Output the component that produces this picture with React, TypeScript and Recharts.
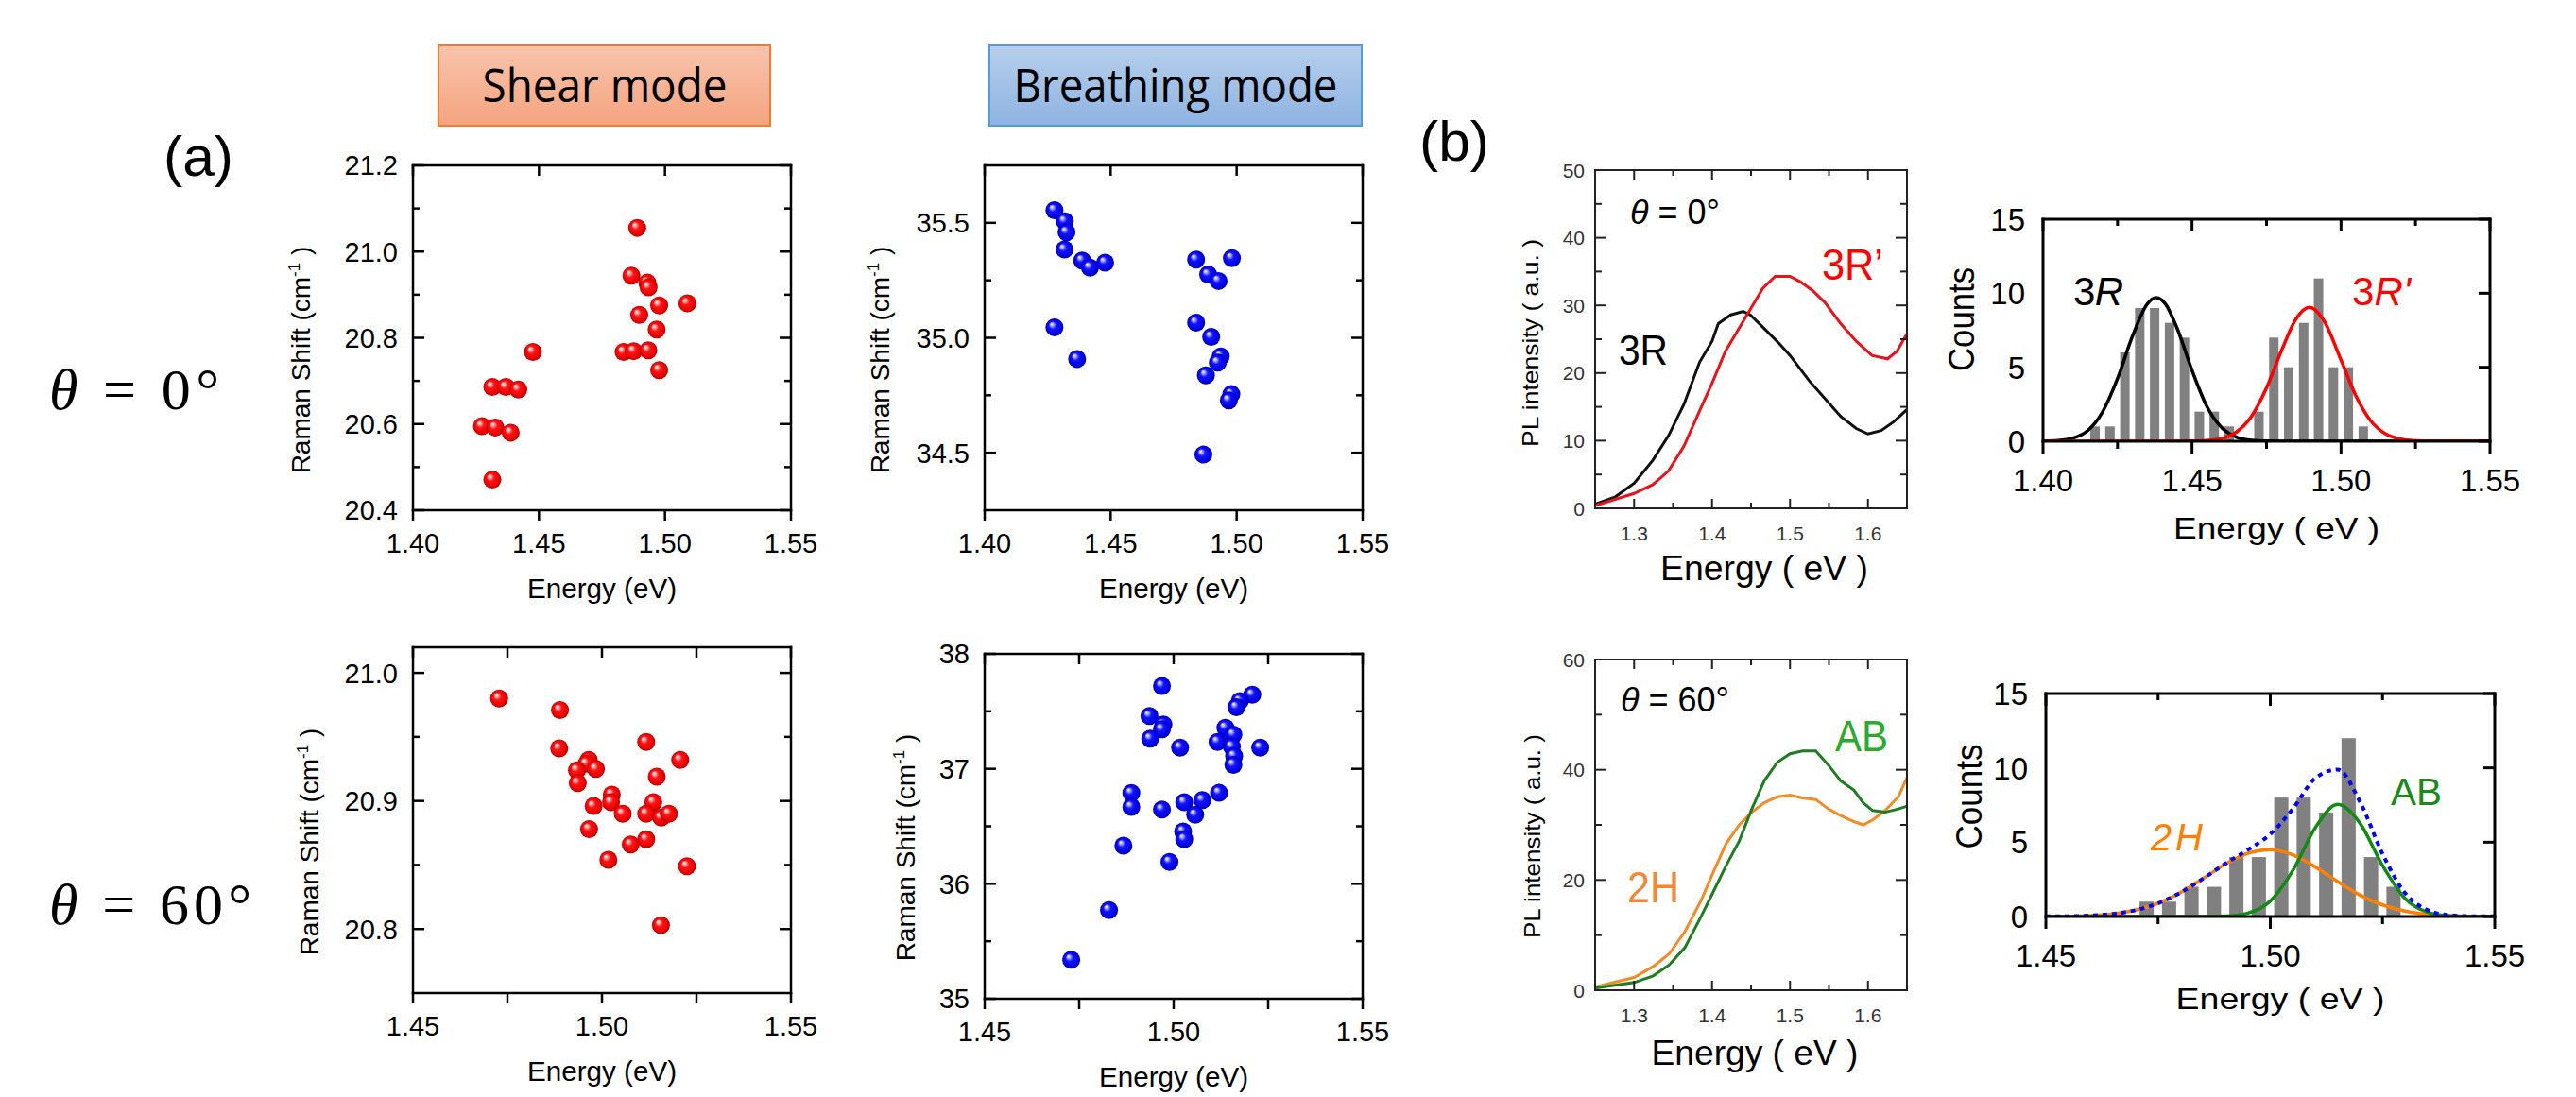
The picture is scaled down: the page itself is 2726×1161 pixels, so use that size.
import React from 'react'
import { ComposedChart, Scatter, Line, Bar, XAxis, YAxis } from 'recharts'

// ---- (a) Raman shift vs PL peak energy ----
const shear0Energy = [1.489, 1.4867, 1.493, 1.4935, 1.4977, 1.5089, 1.4898, 1.4967, 1.4836, 1.4876, 1.4934, 1.4977, 1.4476, 1.4315, 1.4369, 1.4418, 1.4274, 1.4327, 1.4388, 1.4315]
const shear0Shift = [21.055, 20.944, 20.928, 20.917, 20.875, 20.88, 20.853, 20.819, 20.767, 20.769, 20.771, 20.725, 20.767, 20.686, 20.686, 20.68, 20.595, 20.592, 20.58, 20.471]

const breath0Energy = [1.4277, 1.4318, 1.4325, 1.4317, 1.4387, 1.4418, 1.4478, 1.4277, 1.4367, 1.4839, 1.4981, 1.4887, 1.4928, 1.4839, 1.4899, 1.4937, 1.4925, 1.4878, 1.4979, 1.4969, 1.4868]
const breath0Shift = [35.555, 35.507, 35.459, 35.384, 35.336, 35.305, 35.327, 35.045, 34.908, 35.34, 35.346, 35.275, 35.247, 35.066, 35.004, 34.919, 34.892, 34.837, 34.755, 34.728, 34.492]

const shear60Energy = [1.4728, 1.4889, 1.4887, 1.5117, 1.5207, 1.4965, 1.4959, 1.4934, 1.4984, 1.5145, 1.4936, 1.5026, 1.5024, 1.4978, 1.5055, 1.5136, 1.5117, 1.5157, 1.5177, 1.4966, 1.5117, 1.5076, 1.5017, 1.5225, 1.5156]
const shear60Shift = [20.98, 20.971, 20.941, 20.946, 20.932, 20.932, 20.929, 20.924, 20.925, 20.919, 20.914, 20.905, 20.899, 20.896, 20.89, 20.899, 20.89, 20.887, 20.89, 20.878, 20.87, 20.866, 20.854, 20.849, 20.803]

const breath60Energy = [1.4969, 1.5208, 1.5175, 1.5166, 1.4936, 1.4973, 1.4969, 1.5137, 1.5158, 1.4938, 1.5017, 1.5116, 1.5229, 1.5154, 1.516, 1.5158, 1.4888, 1.4888, 1.512, 1.5028, 1.5076, 1.4969, 1.5057, 1.5025, 1.5028, 1.4867, 1.4989, 1.4829, 1.4729]
const breath60Shift = [37.721, 37.645, 37.59, 37.535, 37.459, 37.385, 37.344, 37.357, 37.297, 37.262, 37.185, 37.234, 37.185, 37.193, 37.111, 37.035, 36.789, 36.668, 36.791, 36.709, 36.728, 36.646, 36.6, 36.455, 36.387, 36.332, 36.19, 35.771, 35.339]

// ---- (b) PL spectra ----
const pl3REnergy = [1.25, 1.276, 1.3, 1.324, 1.344, 1.364, 1.384, 1.4, 1.408, 1.424, 1.44, 1.449, 1.465, 1.485, 1.5, 1.525, 1.545, 1.565, 1.585, 1.6, 1.617, 1.633, 1.65]
const pl3R = [0.6, 1.7, 3.7, 7.1, 10.7, 15.4, 21.6, 24.7, 27.3, 28.6, 29.1, 28.6, 26.8, 24.5, 22.6, 18.8, 16.2, 13.6, 11.8, 11.0, 11.5, 12.8, 14.6]
const pl3RpEnergy = [1.25, 1.3, 1.324, 1.344, 1.364, 1.384, 1.4, 1.417, 1.433, 1.449, 1.465, 1.481, 1.5, 1.513, 1.529, 1.545, 1.565, 1.585, 1.605, 1.625, 1.637, 1.65]
const pl3Rp = [0.4, 2.2, 3.5, 5.5, 9.2, 14.4, 18.5, 23.2, 26.3, 29.4, 32.5, 34.3, 34.3, 33.5, 32.2, 30.4, 27.3, 24.7, 22.6, 22.1, 23.2, 25.8]
const pl60Energy = [1.25, 1.3, 1.3245, 1.345, 1.365, 1.386, 1.4, 1.418, 1.435, 1.451, 1.467, 1.484, 1.5, 1.516, 1.533, 1.549, 1.565, 1.582, 1.594, 1.606, 1.622, 1.639, 1.65]
const plAB = [0.4, 1.4, 2.6, 4.6, 7.7, 13.4, 17.4, 22.6, 27.1, 32.9, 38.0, 41.4, 42.9, 43.4, 43.4, 40.9, 38.0, 36.3, 34.0, 32.6, 32.3, 32.9, 33.4]
const pl2H = [0.6, 2.3, 4.3, 6.6, 10.6, 16.3, 20.9, 26.6, 30.0, 32.3, 34.0, 35.1, 35.4, 34.9, 34.6, 32.9, 31.7, 30.6, 30.0, 30.9, 32.6, 35.1, 38.6]

// ---- (b) histograms of peak energy ----
const hist0Energy = [1.4175, 1.4225, 1.4275, 1.4325, 1.4375, 1.4425, 1.4475, 1.4525, 1.4575, 1.4625, 1.4675, 1.4725, 1.4775, 1.4825, 1.4875, 1.4925, 1.4975, 1.5025, 1.5075]
const hist0Counts = [1, 1, 6, 9, 9, 8, 7, 2, 2, 1, 0, 2, 7, 5, 8, 11, 5, 5, 1]
const hist60Energy = [1.4725, 1.4775, 1.4825, 1.4875, 1.4925, 1.4975, 1.5025, 1.5075, 1.5125, 1.5175, 1.5225, 1.5275]
const hist60Counts = [1, 1, 2, 2, 4, 4, 8, 8, 7, 12, 4, 2]

const fit3REnergy = [1.4, 1.405, 1.41, 1.415, 1.42, 1.425, 1.43, 1.435, 1.438, 1.441, 1.445, 1.45, 1.455, 1.46, 1.465, 1.47, 1.475, 1.48, 1.55]
const fit3R = [0.01, 0.05, 0.21, 0.72, 1.99, 4.23, 7.09, 9.28, 9.7, 9.3, 7.63, 4.79, 2.35, 0.91, 0.27, 0.06, 0.01, 0, 0]
const fit3RpEnergy = [1.4, 1.45, 1.455, 1.46, 1.465, 1.47, 1.475, 1.48, 1.485, 1.4894, 1.494, 1.5, 1.505, 1.51, 1.515, 1.52, 1.525, 1.53, 1.55]
const fit3Rp = [0, 0.01, 0.05, 0.19, 0.64, 1.69, 3.6, 6.11, 8.3, 9.05, 8.24, 5.49, 3.07, 1.37, 0.49, 0.14, 0.03, 0, 0]
const fit60Energy = [1.45, 1.455, 1.46, 1.465, 1.47, 1.475, 1.48, 1.485, 1.49, 1.495, 1.5, 1.505, 1.51, 1.515, 1.52, 1.525, 1.53, 1.535, 1.54, 1.545, 1.55]
const fit2H = [0.01, 0.02, 0.07, 0.18, 0.43, 0.89, 1.61, 2.55, 3.53, 4.26, 4.5, 4.15, 3.34, 2.35, 1.44, 0.78, 0.37, 0.15, 0.05, 0.02, 0.01]
const fitAB = [0, 0, 0, 0, 0, 0, 0, 0, 0.03, 0.23, 1.04, 3.09, 5.96, 7.54, 6.27, 3.43, 1.22, 0.29, 0.04, 0, 0]
const fitSum = [0.01, 0.02, 0.07, 0.18, 0.43, 0.89, 1.61, 2.55, 3.56, 4.49, 5.54, 7.24, 9.3, 9.89, 7.71, 4.21, 1.59, 0.44, 0.09, 0.02, 0.01]

// ---- tick values ----
const xTicksA0 = [1.4, 1.45, 1.5, 1.55]
const xTicksA60 = [1.45, 1.5, 1.55]
const xMinorA60 = [1.475, 1.525]
const yTicksShear0 = [20.4, 20.6, 20.8, 21.0, 21.2]
const yMinorShear0 = [20.5, 20.7, 20.9, 21.1]
const yTicksBreath0 = [34.5, 35.0, 35.5]
const yMinorBreath0 = [34.75, 35.25]
const yTicksShear60 = [20.8, 20.9, 21.0]
const yMinorShear60 = [20.85, 20.95]
const yTicksBreath60 = [35, 36, 37, 38]
const yMinorBreath60 = [35.5, 36.5, 37.5]
const xTicksPL = [1.3, 1.4, 1.5, 1.6]
const xMinorPL = [1.35, 1.45, 1.55]
const yTicksPL0 = [0, 10, 20, 30, 40, 50]
const yMinorPL0 = [5, 15, 25, 35, 45]
const yTicksPL60 = [0, 20, 40, 60]
const yMinorPL60 = [10, 30, 50]
const xTicksCnt0 = [1.4, 1.45, 1.5, 1.55]
const xMinorCnt0 = [1.425, 1.475, 1.525]
const yTicksCnt = [0, 5, 10, 15]

const SANS = "'Liberation Sans', Arial, Helvetica, sans-serif"

const pts = (xs: number[], ys: number[]) => xs.map((x, i) => ({ x, y: ys[i] }))
const bins = (xs: number[], ns: number[]) => xs.map((x, i) => ({ x, n: ns[i] }))

type Side = 'bottom' | 'top' | 'left' | 'right'
type SideSpec = { len: number; minorLen: number; out: boolean; gap?: number }
type AxisDef = { domain: [number, number]; major: number[]; minor: number[]; fmt: (v: number) => string }
type Look = { color: string; width: number; font: number; fontColor: string; sides: Record<Side, SideSpec> }
type Rect = { x: number; y: number; w: number; h: number }

const isIn = (list: number[], v: number) => list.some((m) => Math.abs(m - v) < 1e-6)

function tickFor(side: Side, axis: AxisDef, look: Look) {
  const spec = look.sides[side]
  return (p: any) => {
    const v = Number(p.payload?.value)
    const major = isIn(axis.major, v)
    const len = major ? spec.len : spec.minorLen
    const d = spec.out ? 1 : -1
    let x2 = p.x
    let y2 = p.y
    if (side === 'bottom') y2 = p.y + d * len
    else if (side === 'top') y2 = p.y - d * len
    else if (side === 'left') x2 = p.x - d * len
    else x2 = p.x + d * len
    const label = major && spec.gap !== undefined
    return (
      <g>
        {len > 0 && <line x1={p.x} y1={p.y} x2={x2} y2={y2} stroke={look.color} strokeWidth={look.width} />}
        {label && side === 'bottom' && (
          <text x={p.x} y={p.y + (spec.gap as number)} textAnchor="middle" fontSize={look.font} fill={look.fontColor} fontFamily={SANS}>
            {axis.fmt(v)}
          </text>
        )}
        {label && side === 'left' && (
          <text x={p.x - (spec.gap as number)} y={p.y} dy="0.36em" textAnchor="end" fontSize={look.font} fill={look.fontColor} fontFamily={SANS}>
            {axis.fmt(v)}
          </text>
        )}
      </g>
    )
  }
}

// the axes need a size of at least 1px or Recharts skips them
const M = { top: 30, right: 30, bottom: 100, left: 110 }

function Panel({ rect, x, y, look, data, children }: { rect: Rect; x: AxisDef; y: AxisDef; look: Look; data?: any[]; children: React.ReactNode }) {
  const line = { stroke: look.color, strokeWidth: look.width, strokeLinecap: 'square' as const }
  const xt = [...x.major, ...x.minor]
  const yt = [...y.major, ...y.minor]
  return (
    <div style={{ position: 'absolute', left: rect.x - M.left - 1, top: rect.y - M.top - 1 }}>
      <ComposedChart width={rect.w + M.left + M.right + 2} height={rect.h + M.top + M.bottom + 2} margin={M} data={data}>
        <XAxis type="number" dataKey="x" domain={x.domain} ticks={xt} interval={0} allowDataOverflow height={1} tickSize={0} tickMargin={0} tickLine={false} axisLine={line} orientation="bottom" tick={tickFor('bottom', x, look)} />
        <XAxis type="number" xAxisId="top" dataKey="x" domain={x.domain} ticks={xt} interval={0} allowDataOverflow height={1} tickSize={0} tickMargin={0} tickLine={false} axisLine={line} orientation="top" tick={tickFor('top', x, look)} />
        <YAxis type="number" domain={y.domain} ticks={yt} interval={0} allowDataOverflow width={1} tickSize={0} tickMargin={0} tickLine={false} axisLine={line} orientation="left" tick={tickFor('left', y, look)} />
        <YAxis type="number" yAxisId="right" domain={y.domain} ticks={yt} interval={0} allowDataOverflow width={1} tickSize={0} tickMargin={0} tickLine={false} axisLine={line} orientation="right" tick={tickFor('right', y, look)} />
        {children}
      </ComposedChart>
    </div>
  )
}

const lookA: Look = {
  color: '#000', width: 2.5, font: 29, fontColor: '#000',
  sides: {
    bottom: { len: 11, minorLen: 11, out: true, gap: 45 },
    top: { len: 11, minorLen: 11, out: false },
    left: { len: 12, minorLen: 7, out: false, gap: 16 },
    right: { len: 12, minorLen: 7, out: false },
  },
}
const lookPL: Look = {
  color: '#222', width: 2, font: 21, fontColor: '#333',
  sides: {
    bottom: { len: 10, minorLen: 6, out: false, gap: 34 },
    top: { len: 10, minorLen: 6, out: false },
    left: { len: 12, minorLen: 7, out: false, gap: 11 },
    right: { len: 12, minorLen: 7, out: false },
  },
}
const lookCnt: Look = {
  color: '#000', width: 3, font: 33, fontColor: '#000',
  sides: {
    bottom: { len: 13, minorLen: 8, out: true, gap: 53 },
    top: { len: 13, minorLen: 7, out: false },
    left: { len: 0, minorLen: 0, out: true, gap: 19 },
    right: { len: 12, minorLen: 0, out: false },
  },
}

const f2 = (v: number) => v.toFixed(2)
const f1 = (v: number) => v.toFixed(1)
const f0 = (v: number) => v.toFixed(0)

const Ball = (id: string) => (p: any) => <circle cx={p.cx} cy={p.cy} r={9.5} fill={`url(#${id})`} />
// fixed-width histogram bar centred on the bin value
const BinBar = (w: number) => (p: any) =>
  p.height > 0 ? <rect x={p.x + p.width / 2 - w / 2} y={p.y} width={w} height={p.height} fill="#808080" /> : <g />

function Title({ x, y, size, len, children, rotate, anchor = 'middle', fill = '#000', family = SANS }: any) {
  const tr = rotate ? `translate(${x},${y}) rotate(-90)` : undefined
  return (
    <text
      x={rotate ? 0 : x}
      y={rotate ? 0 : y}
      transform={tr}
      textAnchor={anchor}
      fontSize={size}
      fill={fill}
      fontFamily={family}
      textLength={len}
      lengthAdjust="spacingAndGlyphs"
    >
      {children}
    </text>
  )
}

export default function App() {
  return (
    <div style={{ position: 'absolute', left: 0, top: 0, width: 2726, height: 1161, background: '#fff', overflow: 'hidden' }}>
      <svg width={2726} height={1161} style={{ position: 'absolute', left: 0, top: 0 }}>
        <defs>
          <radialGradient id="ballRed" cx="0.5" cy="0.5" r="0.5" fx="0.33" fy="0.3">
            <stop offset="0" stopColor="#ffffff" />
            <stop offset="0.16" stopColor="#ffb4b4" />
            <stop offset="0.42" stopColor="#ff1414" />
            <stop offset="0.85" stopColor="#e60000" />
            <stop offset="1" stopColor="#a80000" />
          </radialGradient>
          <radialGradient id="ballBlue" cx="0.5" cy="0.5" r="0.5" fx="0.33" fy="0.3">
            <stop offset="0" stopColor="#ffffff" />
            <stop offset="0.16" stopColor="#b4b4ff" />
            <stop offset="0.42" stopColor="#1414ff" />
            <stop offset="0.85" stopColor="#0000e0" />
            <stop offset="1" stopColor="#00009c" />
          </radialGradient>
          <linearGradient id="boxShear" x1="0" y1="0" x2="0" y2="1">
            <stop offset="0" stopColor="#f8c4ad" />
            <stop offset="1" stopColor="#f4a47f" />
          </linearGradient>
          <linearGradient id="boxBreath" x1="0" y1="0" x2="0" y2="1">
            <stop offset="0" stopColor="#b7cfeb" />
            <stop offset="1" stopColor="#8eb3e2" />
          </linearGradient>
        </defs>

        {/* headers */}
        <rect x={464} y={48} width={351} height={85} fill="url(#boxShear)" stroke="#ed7d31" strokeWidth={2} />
        <Title x={640} y={108} size={50} len={259} family="'Liberation Sans Narrow', 'Open Sans', sans-serif">Shear mode</Title>
        <rect x={1047} y={48} width={394} height={85} fill="url(#boxBreath)" stroke="#5b9bd5" strokeWidth={2} />
        <Title x={1244} y={108} size={50} len={343} family="'Liberation Sans Narrow', 'Open Sans', sans-serif">Breathing mode</Title>

        <Title x={173} y={186} size={60} len={74} anchor="start">(a)</Title>
        <Title x={1502} y={170} size={60} len={74} anchor="start">(b)</Title>

        <text x={52} y={433} fontSize={62} fontFamily="'Liberation Serif', 'DejaVu Serif', serif" textLength={180}>
          <tspan fontStyle="italic">θ</tspan> = 0°
        </text>
        <text x={52} y={978} fontSize={62} fontFamily="'Liberation Serif', 'DejaVu Serif', serif" textLength={214}>
          <tspan fontStyle="italic">θ</tspan> = 60°
        </text>

        {/* (a) axis titles */}
        <Title x={637} y={633} size={29} len={158}>Energy (eV)</Title>
        <Title x={1242} y={633} size={29} len={158}>Energy (eV)</Title>
        <Title x={637} y={1144} size={29} len={158}>Energy (eV)</Title>
        <Title x={1242} y={1150} size={29} len={158}>Energy (eV)</Title>
        {[
          [328, 381],
          [941, 381],
          [337, 891],
          [968, 897],
        ].map(([x, y]) => (
          <text key={`${x}`} transform={`translate(${x},${y}) rotate(-90)`} textAnchor="middle" fontSize={28} fontFamily={SANS}>
            Raman Shift (cm<tspan dy={-11} fontSize={17}>-1</tspan>
            <tspan dy={11}> )</tspan>
          </text>
        ))}

        {/* (b) axis titles */}
        <Title x={1867} y={614} size={36} len={220}>Energy  ( eV )</Title>
        <Title x={1857} y={1127} size={36} len={219}>Energy  ( eV )</Title>
        <Title x={1628} y={363} size={24} len={220} rotate>PL  intensity  ( a.u. )</Title>
        <Title x={1630} y={885} size={24} len={216} rotate>PL  intensity  ( a.u. )</Title>
        <Title x={2409} y={570} size={32} len={218}>Energy  ( eV )</Title>
        <Title x={2413} y={1068} size={32} len={221}>Energy  ( eV )</Title>
        <Title x={2089} y={338} size={38} len={110} rotate>Counts</Title>
        <Title x={2097} y={843} size={38} len={111} rotate>Counts</Title>

        {/* in-plot labels */}
        <text x={1725} y={237} fontSize={36} fontFamily={SANS} textLength={95}>
          <tspan fontStyle="italic">θ</tspan> = 0°
        </text>
        <Title x={1928} y={296} size={46} len={65} anchor="start" fill="#ff0000">3R’</Title>
        <Title x={1713} y={386} size={44} len={52} anchor="start">3R</Title>
        <text x={1715} y={753} fontSize={36} fontFamily={SANS} textLength={115}>
          <tspan fontStyle="italic">θ</tspan> = 60°
        </text>
        <Title x={1942} y={795} size={46} len={56} anchor="start" fill="#2ea82e">AB</Title>
        <Title x={1722} y={955} size={46} len={55} anchor="start" fill="#f0883a">2H</Title>

        <text x={2194} y={323} fontSize={42} fontFamily={SANS} textLength={53}>
          3<tspan fontStyle="italic">R</tspan>
        </text>
        <text x={2489} y={323} fontSize={42} fontFamily={SANS} fill="#ff0000" textLength={62}>
          3<tspan fontStyle="italic">R'</tspan>
        </text>
        <text x={2276} y={900} fontSize={40} fontFamily={SANS} fill="#ff8000" fontStyle="italic" textLength={55}>
          2H
        </text>
        <Title x={2530} y={852} size={40} len={54} anchor="start" fill="#1a8a1a">AB</Title>
      </svg>

      {/* (a) shear, θ = 0° */}
      <Panel
        rect={{ x: 437, y: 175, w: 400, h: 365 }}
        x={{ domain: [1.4, 1.55], major: xTicksA0, minor: [], fmt: f2 }}
        y={{ domain: [20.4, 21.2], major: yTicksShear0, minor: yMinorShear0, fmt: f1 }}
        look={lookA}
      >
        <Scatter data={pts(shear0Energy, shear0Shift)} dataKey="y" shape={Ball('ballRed')} isAnimationActive={false} />
      </Panel>

      {/* (a) breathing, θ = 0° */}
      <Panel
        rect={{ x: 1042, y: 175, w: 400, h: 365 }}
        x={{ domain: [1.4, 1.55], major: xTicksA0, minor: [], fmt: f2 }}
        y={{ domain: [34.25, 35.75], major: yTicksBreath0, minor: yMinorBreath0, fmt: f1 }}
        look={lookA}
      >
        <Scatter data={pts(breath0Energy, breath0Shift)} dataKey="y" shape={Ball('ballBlue')} isAnimationActive={false} />
      </Panel>

      {/* (a) shear, θ = 60° */}
      <Panel
        rect={{ x: 437, y: 685, w: 400, h: 366 }}
        x={{ domain: [1.45, 1.55], major: xTicksA60, minor: xMinorA60, fmt: f2 }}
        y={{ domain: [20.75, 21.02], major: yTicksShear60, minor: yMinorShear60, fmt: f1 }}
        look={lookA}
      >
        <Scatter data={pts(shear60Energy, shear60Shift)} dataKey="y" shape={Ball('ballRed')} isAnimationActive={false} />
      </Panel>

      {/* (a) breathing, θ = 60° */}
      <Panel
        rect={{ x: 1042, y: 692, w: 400, h: 365 }}
        x={{ domain: [1.45, 1.55], major: xTicksA60, minor: xMinorA60, fmt: f2 }}
        y={{ domain: [35, 38], major: yTicksBreath60, minor: yMinorBreath60, fmt: f0 }}
        look={lookA}
      >
        <Scatter data={pts(breath60Energy, breath60Shift)} dataKey="y" shape={Ball('ballBlue')} isAnimationActive={false} />
      </Panel>

      {/* (b) PL, θ = 0° */}
      <Panel
        rect={{ x: 1688, y: 180, w: 330, h: 358 }}
        x={{ domain: [1.25, 1.65], major: xTicksPL, minor: xMinorPL, fmt: f1 }}
        y={{ domain: [0, 50], major: yTicksPL0, minor: yMinorPL0, fmt: f0 }}
        look={lookPL}
      >
        <Line data={pts(pl3REnergy, pl3R)} dataKey="y" type="linear" stroke="#111" strokeWidth={3} dot={false} isAnimationActive={false} />
        <Line data={pts(pl3RpEnergy, pl3Rp)} dataKey="y" type="linear" stroke="#e8141c" strokeWidth={3} dot={false} isAnimationActive={false} />
      </Panel>

      {/* (b) PL, θ = 60° */}
      <Panel
        rect={{ x: 1688, y: 698, w: 330, h: 350 }}
        x={{ domain: [1.25, 1.65], major: xTicksPL, minor: xMinorPL, fmt: f1 }}
        y={{ domain: [0, 60], major: yTicksPL60, minor: yMinorPL60, fmt: f0 }}
        look={lookPL}
      >
        <Line data={pts(pl60Energy, pl2H)} dataKey="y" type="linear" stroke="#f28c28" strokeWidth={3} dot={false} isAnimationActive={false} />
        <Line data={pts(pl60Energy, plAB)} dataKey="y" type="linear" stroke="#1e7d22" strokeWidth={3} dot={false} isAnimationActive={false} />
      </Panel>

      {/* (b) histogram, θ = 0° */}
      <Panel
        rect={{ x: 2162, y: 232, w: 473, h: 235 }}
        x={{ domain: [1.4, 1.55], major: xTicksCnt0, minor: xMinorCnt0, fmt: f2 }}
        y={{ domain: [0, 15], major: yTicksCnt, minor: [], fmt: f0 }}
        look={lookCnt}
        data={bins(hist0Energy, hist0Counts)}
      >
        <Bar dataKey="n" fill="#808080" shape={BinBar(10)} isAnimationActive={false} />
        <Line data={pts(fit3REnergy, fit3R)} dataKey="y" type="monotone" stroke="#000" strokeWidth={3.5} dot={false} isAnimationActive={false} />
        <Line data={pts(fit3RpEnergy, fit3Rp)} dataKey="y" type="monotone" stroke="#ff0000" strokeWidth={3.5} dot={false} isAnimationActive={false} />
      </Panel>

      {/* (b) histogram, θ = 60° */}
      <Panel
        rect={{ x: 2165, y: 734, w: 475, h: 236 }}
        x={{ domain: [1.45, 1.55], major: xTicksA60, minor: xMinorA60, fmt: f2 }}
        y={{ domain: [0, 15], major: yTicksCnt, minor: [], fmt: f0 }}
        look={lookCnt}
        data={bins(hist60Energy, hist60Counts)}
      >
        <Bar dataKey="n" fill="#808080" shape={BinBar(15)} isAnimationActive={false} />
        <Line data={pts(fit60Energy, fit2H)} dataKey="y" type="monotone" stroke="#ff8000" strokeWidth={3.5} dot={false} isAnimationActive={false} />
        <Line data={pts(fit60Energy, fitAB)} dataKey="y" type="monotone" stroke="#138a13" strokeWidth={3.5} dot={false} isAnimationActive={false} />
        <Line data={pts(fit60Energy, fitSum)} dataKey="y" type="monotone" stroke="#0000ff" strokeWidth={4} strokeDasharray="5 5" dot={false} isAnimationActive={false} />
      </Panel>
    </div>
  )
}
